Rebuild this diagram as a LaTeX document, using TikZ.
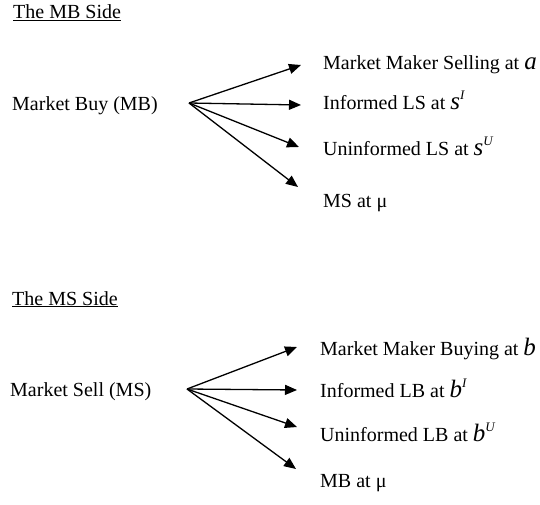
\documentclass[tikz,border=0pt]{standalone}
\usepackage{fontspec}
\setmainfont{Liberation Serif}
\usetikzlibrary{arrows.meta}
\tikzset{
    txt/.style={anchor=base west, inner sep=0pt, font=\fontsize{20}{24}\selectfont},
    branch/.style={-{Triangle[length=12pt, width=10pt]}, line width=1.3pt},
}
\newcommand{\mvar}[1]{{\fontsize{25}{25}\selectfont\textit{#1}}}
\newcommand{\msup}[2]{\mvar{#1}\raisebox{10pt}{\fontsize{13}{13}\selectfont\textit{#2}}}
\begin{document}
\begin{tikzpicture}[x=1pt, y=-1pt]
        \useasboundingbox (0, 0) rectangle (540, 505);
        % MB side
        \node[txt] (mb_title) at (13, 19) {\underline{The MB Side}};
        \node[txt] (mb) at (12, 111) {Market Buy (MB)};
        \coordinate (mb_fork) at (189, 103);
        \node[txt] (mb_a) at (323, 70) {Market Maker Selling at \mvar{a}};
        \node[txt] (mb_b) at (323, 110) {Informed LS at \msup{s}{I}};
        \node[txt] (mb_c) at (323, 156) {Uninformed LS at \msup{s}{U}};
        \node[txt] (mb_d) at (323, 207) {MS at μ};
        \draw[branch] (mb_fork) -- ([xshift=-22pt, yshift=5pt]mb_a.base west);
        \draw[branch] (mb_fork) -- ([xshift=-22pt, yshift=5pt]mb_b.base west);
        \draw[branch] (mb_fork) -- ([xshift=-24pt, yshift=9pt]mb_c.base west);
        \draw[branch] (mb_fork) -- ([xshift=-25pt, yshift=20pt]mb_d.base west);
        % MS side
        \node[txt] (ms_title) at (12, 305) {\underline{The MS Side}};
        \node[txt] (ms) at (10, 396) {Market Sell (MS)};
        \coordinate (ms_fork) at (187, 389);
        \node[txt] (ms_a) at (320, 355) {Market Maker Buying at \mvar{b}};
        \node[txt] (ms_b) at (320, 397) {Informed LB at \msup{b}{I}};
        \node[txt] (ms_c) at (320, 441) {Uninformed LB at \msup{b}{U}};
        \node[txt] (ms_d) at (320, 487) {MB at μ};
        \draw[branch] (ms_fork) -- ([xshift=-23pt, yshift=8pt]ms_a.base west);
        \draw[branch] (ms_fork) -- ([xshift=-23pt, yshift=7pt]ms_b.base west);
        \draw[branch] (ms_fork) -- ([xshift=-23pt, yshift=14pt]ms_c.base west);
        \draw[branch] (ms_fork) -- ([xshift=-24pt, yshift=18pt]ms_d.base west);
    \end{tikzpicture}
\end{document}
